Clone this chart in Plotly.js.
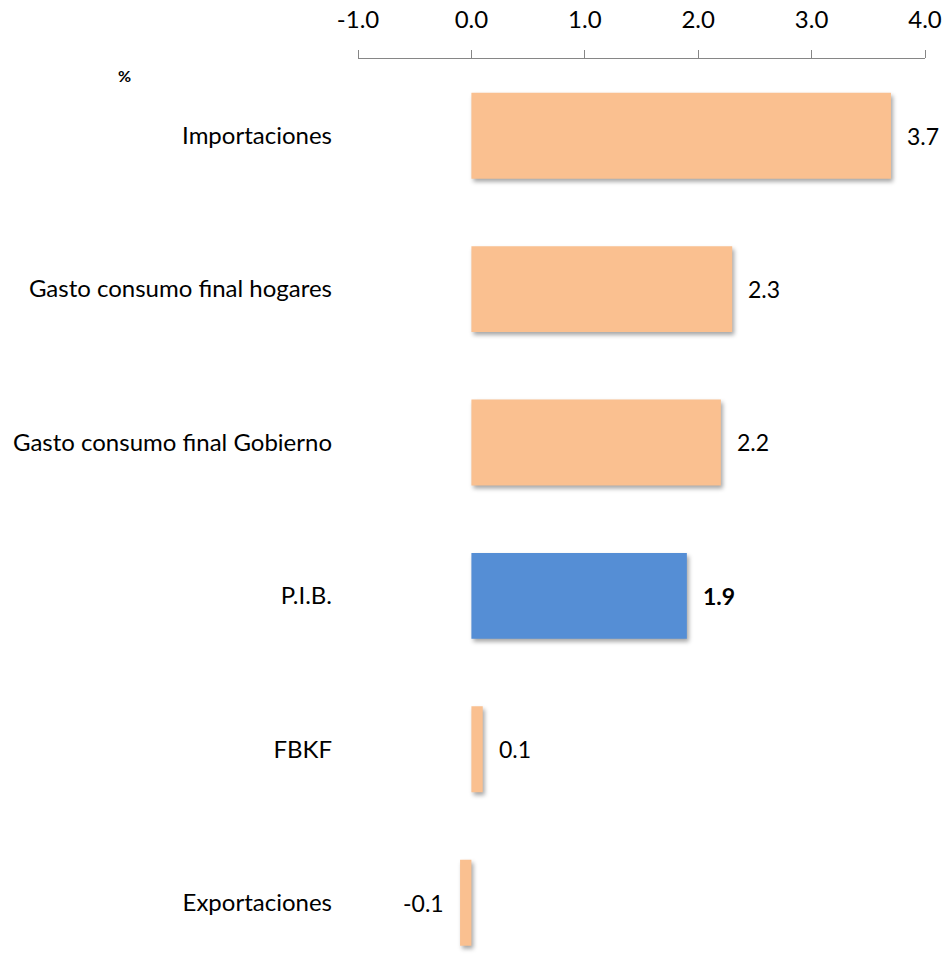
<!DOCTYPE html>
<html>
<head>
<meta charset="utf-8">
<script src="https://cdn.plot.ly/plotly-3.0.1.min.js"></script>
<style>
  html, body { margin: 0; padding: 0; background: #ffffff; }
  #chart { width: 949px; height: 976px; }
  /* soft drop shadow under each bar */
  #chart .barlayer .point path { filter: drop-shadow(2px 3px 2px rgba(0, 0, 0, 0.35)); }
</style>
</head>
<body>
<div id="chart"></div>
<script>
// Growth by component of demand, %
const categories = [
  'Importaciones',
  'Gasto consumo final hogares',
  'Gasto consumo final Gobierno',
  'P.I.B.',
  'FBKF',
  'Exportaciones'
];
const growth = [3.7, 2.3, 2.2, 1.9, 0.1, -0.1];
const highlighted = 'P.I.B.';
const xTickValues = [-1, 0, 1, 2, 3, 4];
const unitLabel = '%';

const orange = '#FAC090';
const blue = '#558ED5';
const axisGrey = '#868686';
const fontFamily = 'Lato, "Open Sans", sans-serif';

const xRange = [xTickValues[0], xTickValues[xTickValues.length - 1]];
const yRange = [5.478, -0.5];
// the vertical axis line sits at x = 0
const zeroPos = (0 - xRange[0]) / (xRange[1] - xRange[0]);
// ticks between neighbouring categories
const boundaryTicks = categories.slice(1).map((_, i) => i + 0.5);

const bars = {
  type: 'bar',
  orientation: 'h',
  x: growth,
  y: categories,
  marker: { color: categories.map(c => c === highlighted ? blue : orange) },
  hoverinfo: 'x+y'
};

const valueLabels = growth.map((v, i) => ({
  x: v,
  y: categories[i],
  xref: 'x',
  yref: 'y',
  text: categories[i] === highlighted ? '<b>' + v.toFixed(1) + '</b>' : v.toFixed(1),
  showarrow: false,
  xanchor: v >= 0 ? 'left' : 'right',
  xshift: v >= 0 ? 14 : -14,
  font: { family: fontFamily, size: 23, color: '#000000' }
}));

const layout = {
  width: 949,
  height: 976,
  margin: { l: 358, r: 24, t: 59, b: 0, pad: 0 },
  paper_bgcolor: '#ffffff',
  plot_bgcolor: '#ffffff',
  showlegend: false,
  bargap: 0.44,
  font: { family: fontFamily, size: 24, color: '#000000' },
  xaxis: {
    side: 'top',
    range: xRange,
    tickvals: xTickValues,
    ticktext: xTickValues.map(v => v.toFixed(1)),
    ticks: 'outside',
    ticklen: 8,
    tickwidth: 1,
    tickcolor: axisGrey,
    ticklabelstandoff: 12,
    tickfont: { family: fontFamily, size: 24, color: '#000000' },
    showline: true,
    linecolor: axisGrey,
    linewidth: 1,
    showgrid: false,
    zeroline: false,
    fixedrange: true
  },
  yaxis: {
    type: 'category',
    categoryorder: 'array',
    categoryarray: categories,
    range: yRange,
    showline: false,
    showgrid: false,
    zeroline: false,
    ticks: '',
    ticklabelstandoff: 25,
    tickfont: { family: fontFamily, size: 24, color: '#000000' },
    fixedrange: true
  },
  yaxis2: {
    overlaying: 'y',
    anchor: 'free',
    position: zeroPos,
    type: 'linear',
    range: yRange,
    tickvals: boundaryTicks,
    showticklabels: false,
    ticks: 'outside',
    ticklen: 8,
    tickwidth: 1,
    tickcolor: axisGrey,
    showline: true,
    linecolor: axisGrey,
    linewidth: 1,
    showgrid: false,
    zeroline: false,
    fixedrange: true
  },
  annotations: valueLabels.concat([{
    xref: 'paper',
    yref: 'paper',
    x: -0.412,
    y: 0.982,
    text: '<b>' + unitLabel + '</b>',
    showarrow: false,
    xanchor: 'center',
    yanchor: 'middle',
    font: { family: fontFamily, size: 16, color: '#000000' }
  }])
};

Plotly.newPlot('chart', [bars], layout, { displayModeBar: false, staticPlot: true });
</script>
</body>
</html>
